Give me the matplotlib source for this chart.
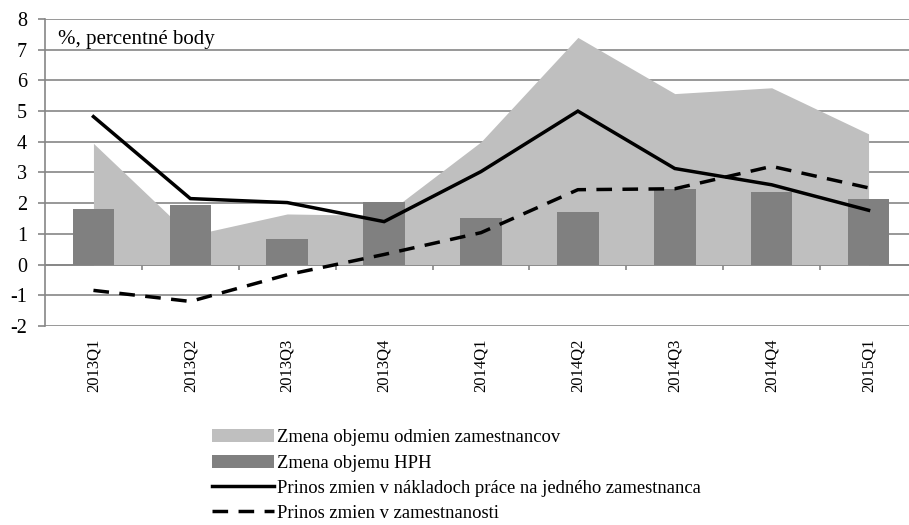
import matplotlib.pyplot as plt
import numpy as np

plt.rcParams['font.family'] = ['Liberation Serif', 'DejaVu Serif']
plt.rcParams['axes.unicode_minus'] = False

# data
kvartaly = ["2013Q1", "2013Q2", "2013Q3", "2013Q4", "2014Q1",
            "2014Q2", "2014Q3", "2014Q4", "2015Q1"]
odmeny = [3.95, 0.95, 1.65, 1.6, 4.0, 7.4, 5.57, 5.76, 4.26]
hph = [1.82, 1.95, 0.83, 2.05, 1.52, 1.7, 2.47, 2.35, 2.14]
naklady = [4.82, 2.15, 2.02, 1.4, 3.03, 5.0, 3.13, 2.6, 1.77]
zamestnanost = [-0.84, -1.2, -0.33, 0.33, 1.04, 2.44, 2.47, 3.2, 2.5]

W, H = 909, 525
fig = plt.figure(figsize=(W / 100, H / 100), dpi=100)
ax = fig.add_axes([45 / W, 1 - 326 / H, (W - 45) / W, (326 - 19) / H])

x = np.arange(len(kvartaly))
sediva = "#868686"

h1 = ax.fill_between(x, 0, odmeny, color="#BFBFBF", lw=0, zorder=1)
h2 = ax.bar(x, hph, width=0.43, color="#808080", zorder=2)
h3, = ax.plot(x, naklady, color="black", lw=2.5, zorder=3,
              solid_joinstyle="miter")
h4, = ax.plot(x, zamestnanost, color="black", lw=2.5, ls=(0, (4.5, 3)),
              zorder=3)

ax.set_ylim(-2, 8)
ax.set_yticks(range(-2, 9))
ax.set_xlim(-0.5, len(kvartaly) - 0.5 - 8 / 97)
ax.yaxis.grid(True, color=sediva, lw=1.2)
ax.set_axisbelow(True)
for s in ["top", "right", "bottom"]:
    ax.spines[s].set_visible(False)
ax.spines["left"].set_color(sediva)
ax.spines["left"].set_linewidth(1.2)
ax.axhline(0, color=sediva, lw=1.2, zorder=0.5)

# zlomy medzi kategoriami na osi x
hranice = x[:-1] + 0.5
ax.vlines(hranice, -0.17, 0, color=sediva, lw=1.2, zorder=0.5)

ax.set_xticks(x)
ax.set_xticklabels(kvartaly, rotation=90, fontsize=12)
ax.tick_params(axis="x", length=0, pad=9)
ax.tick_params(axis="y", length=5, color=sediva, width=1.2, labelsize=14.5,
               pad=8)

ax.text(0.015, 0.965, "%, percentné body", transform=ax.transAxes,
        fontsize=15, va="top", ha="left")

fig.legend([h1, h2, h3, h4],
           ["Zmena objemu odmien zamestnancov",
            "Zmena objemu HPH",
            "Prinos zmien v nákladoch práce na jedného zamestnanca",
            "Prinos zmien v zamestnanosti"],
           loc="upper left", bbox_to_anchor=(203 / W, 1 - 420 / H),
           frameon=False, fontsize=13.4, handlelength=3.3,
           handletextpad=0.2, labelspacing=0.44, borderpad=0)

fig.savefig("out.png", dpi=100)
